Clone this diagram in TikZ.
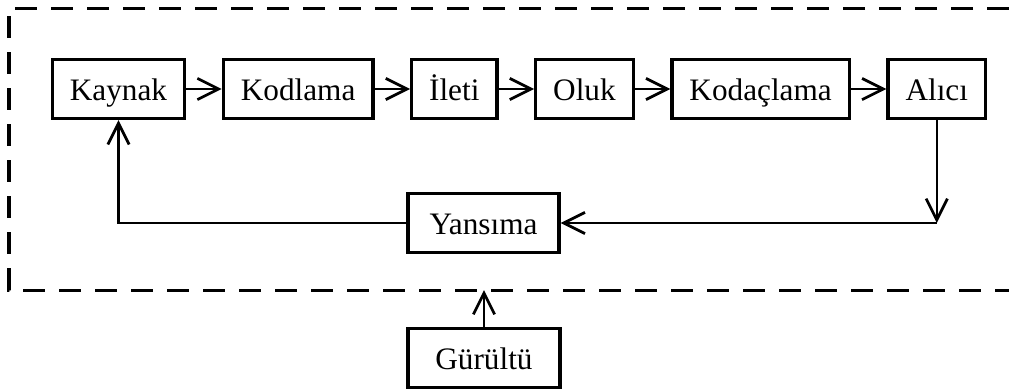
\documentclass[tikz,border=0pt]{standalone}
\usepackage{fontspec}
\setmainfont{Liberation Serif}
\usepackage{tikz}
\usetikzlibrary{positioning}
\usetikzlibrary{arrows.meta}

\begin{document}
\begin{tikzpicture}[
  x=0.4pt, y=-0.4pt,
  node distance=14.2pt,
  blok/.style={draw, line width=1.3pt, inner xsep=7pt, minimum height=23.6pt,
    text height=10pt, text depth=1.2pt, font=\fontsize{12.5}{15}\selectfont},
  ok/.style={line width=1pt, -{Straight Barb[length=8.5pt, width=8.5pt, line width=1.1pt]}},
  cerceve/.style={line width=1.2pt, dash pattern=on 8.8pt off 5.6pt}
]
\useasboundingbox (0,0) rectangle (1009,388);

\node [blok] (kaynak) at (118.5,89) {Kaynak};
\node [blok, right=of kaynak] (kodlama) {Kodlama};
\node [blok, right=of kodlama] (ileti) {İleti};
\node [blok, right=of ileti] (oluk) {Oluk};
\node [blok, right=of oluk] (kodaclama) {Kodaçlama};
\node [blok, right=of kodaclama] (alici) {Alıcı};

\node [blok, minimum width=60.4pt] (yansima) at (483.5,223) {Yansıma};
\node [blok, minimum width=60.8pt] (gurultu) at (484,358) {Gürültü};

\coordinate (solust) at (9,8);
\coordinate (solalt) at (9,290);
\coordinate (donus) at (alici.south |- yansima.east);

\draw [cerceve] (1009,8) -- (solust) -- (solalt) -- (1009,290);

\draw [ok] (kaynak) -- (kodlama);
\draw [ok] (kodlama) -- (ileti);
\draw [ok] (ileti) -- (oluk);
\draw [ok] (oluk) -- (kodaclama);
\draw [ok] (kodaclama) -- (alici);
\draw [ok] (alici.south) -- (donus);
\draw [ok] (donus) -- (yansima.east);
\draw [ok] (yansima.west) -| (kaynak.south);
\draw [ok] (gurultu.north) -- (gurultu.north |- solalt);

\end{tikzpicture}
\end{document}
